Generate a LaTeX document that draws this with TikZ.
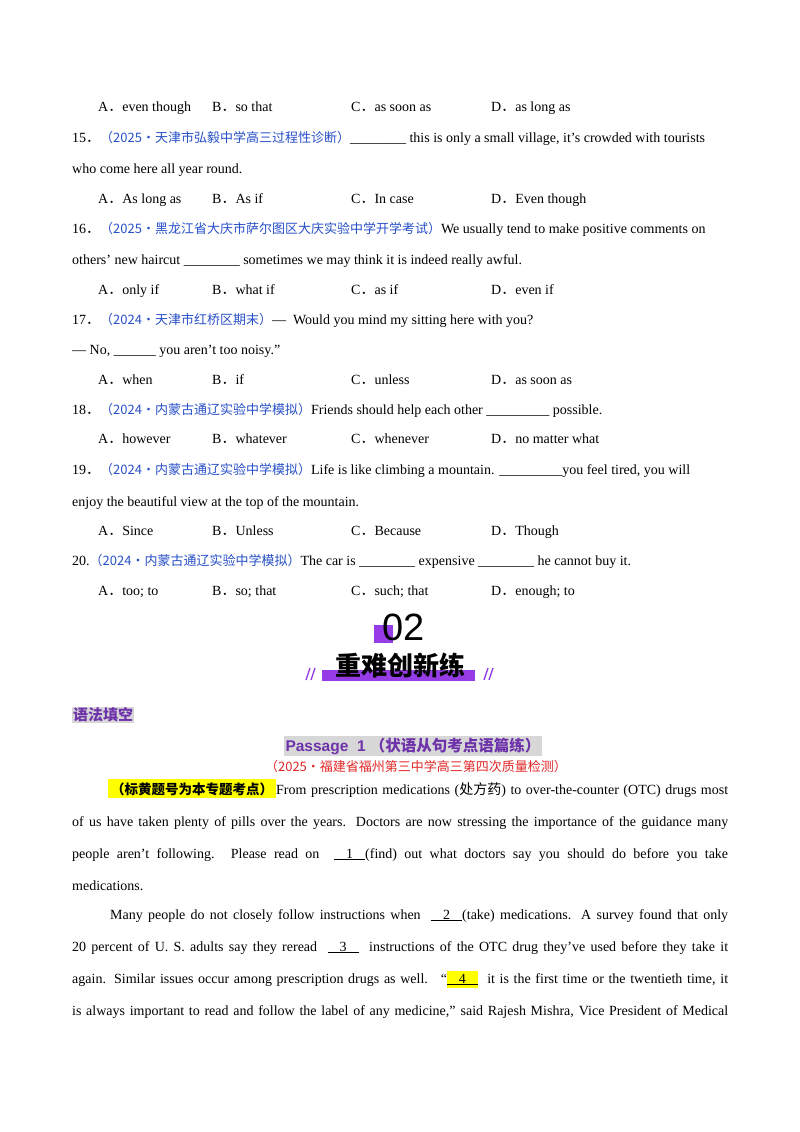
\documentclass[tikz,border=0pt]{standalone}
\usepackage{fontspec}
\setmainfont{Liberation Serif}
\newfontfamily\cjk{Noto Sans CJK SC}
\newfontfamily\arl{Liberation Sans}
\definecolor{src}{RGB}{40,80,200}
\definecolor{redsrc}{RGB}{225,40,40}
\definecolor{purp}{RGB}{110,50,170}
\definecolor{vio}{RGB}{150,60,230}
\definecolor{gry}{RGB}{215,215,215}
\definecolor{yel}{RGB}{255,255,0}
\newcommand{\srcx}[1]{{\color{src}\cjk\fontsize{13pt}{13pt}\selectfont #1}}
\newcommand{\blank}[1]{\underline{\hspace{12pt}#1\hspace{12pt}}}
\newcommand{\pt}{{\cjk ．}}
\begin{document}
\begin{tikzpicture}[x=1pt,y=-1pt,
  t/.style={anchor=base west,inner sep=0pt,font=\fontsize{14pt}{14pt}\selectfont},
  jl/.style={anchor=base west,inner sep=0pt,font=\fontsize{14pt}{14pt}\selectfont}]
\useasboundingbox[fill=white] (0,0) rectangle (800,1132);
\def\opt#1#2#3#4#5{\node[t] (o#1a) at (98,#1) {A\pt #2}; \node[t] (o#1b) at (212,#1) {B\pt #3}; \node[t] (o#1c) at (351,#1) {C\pt #4}; \node[t] (o#1d) at (491,#1) {D\pt #5};}
\opt{111}{even though}{so that}{as soon as}{as long as}
\node[t] (q15) at (72,142) {15\pt\srcx{（2025·天津市弘毅中学高三过程性诊断）}\_\_\_\_\_\_\_\_\ this is only a small village, it’s crowded with tourists};
\node[t] (q15b) at (72,173) {who come here all year round.};
\opt{203}{As long as}{As if}{In case}{Even though}
\node[t] (q16) at (72,233) {16\pt\srcx{（2025·黑龙江省大庆市萨尔图区大庆实验中学开学考试）}We usually tend to make positive comments on};
\node[t] (q16b) at (72,264) {others’ new haircut \_\_\_\_\_\_\_\_\ sometimes we may think it is indeed really awful.};
\opt{294}{only if}{what if}{as if}{even if}
\node[t] (q17) at (72,324) {17\pt\srcx{（2024·天津市红桥区期末）}— \ Would you mind my sitting here with you?};
\node[t] (q17b) at (72,354) {— No, \_\_\_\_\_\_\ you aren’t too noisy.”};
\opt{384}{when}{if}{unless}{as soon as}
\node[t] (q18) at (72,414) {18\pt\srcx{（2024·内蒙古通辽实验中学模拟）}Friends should help each other \_\_\_\_\_\_\_\_\_\ possible.};
\opt{443}{however}{whatever}{whenever}{no matter what}
\node[t] (q19) at (72,474) {19\pt\srcx{（2024·内蒙古通辽实验中学模拟）}Life is like climbing a mountain. \_\_\_\_\_\_\_\_\_you feel tired, you will};
\node[t] (q19b) at (72,506) {enjoy the beautiful view at the top of the mountain.};
\opt{535}{Since}{Unless}{Because}{Though}
\node[t] (q20) at (72,565) {20.\srcx{（2024·内蒙古通辽实验中学模拟）}The car is \_\_\_\_\_\_\_\_\ expensive \_\_\_\_\_\_\_\_\ he cannot buy it.};
\opt{595}{too; to}{so; that}{such; that}{enough; to}
\fill[vio] (374,625) rectangle (393,643);
\node[inner sep=0pt,font=\arl\fontsize{38pt}{38pt}\selectfont] (n02) at (404,627) {02};
\fill[vio] (322,670) rectangle (475,681);
\node[inner sep=0pt,font=\cjk\bfseries\fontsize{26pt}{26pt}\selectfont] (ttl) at (400,665) {重难创新练};
\draw[vio,line width=1.3pt] (306,680)--(310,668) (311,680)--(315,668) (484,680)--(488,668) (489,680)--(493,668);
\node[fill=gry,inner sep=1pt,text=purp,font=\cjk\bfseries\fontsize{15pt}{15pt}\selectfont,anchor=west] (sec) at (72,715) {语法填空};
\node[fill=gry,inner sep=1.5pt,text=purp,font=\arl\bfseries\fontsize{15.5pt}{16pt}\selectfont] (pass) at (413,746) {Passage\ \ 1 {\cjk（状语从句考点语篇练）}};
\node[inner sep=0pt,text=redsrc,font=\cjk\fontsize{13pt}{13pt}\selectfont] (src1) at (416,767) {（2025·福建省福州第三中学高三第四次质量检测）};
\node[jl] (p1) at (108,794) {\makebox[620pt][s]{\colorbox{yel}{\cjk\bfseries\fontsize{13.5pt}{14pt}\selectfont（标黄题号为本专题考点）}From prescription medications ({\cjk 处方药}) to over-the-counter (OTC) drugs most}};
\node[jl] (p2) at (72,826) {\makebox[656pt][s]{of us have taken plenty of pills over the years. Doctors are now stressing the importance of the guidance many}};
\node[jl] (p3) at (72,858) {\makebox[656pt][s]{people aren’t following. Please read on \ \blank{1}(find) out what doctors say you should do before you take}};
\node[jl] (p4) at (72,890) {medications.};
\node[jl] (p5) at (110,919) {\makebox[618pt][s]{Many people do not closely follow instructions when \ \blank{2}(take) medications. A survey found that only}};
\node[jl] (p6) at (72,951) {\makebox[656pt][s]{20 percent of U. S. adults say they reread \ \blank{3} \ instructions of the OTC drug they’ve used before they take it}};
\node[jl] (p7) at (72,983) {\makebox[656pt][s]{again. Similar issues occur among prescription drugs as well. \ “\colorbox{yel}{\hspace{-3pt}\blank{4}\hspace{-3pt}} \ it is the first time or the twentieth time, it}};
\node[jl] (p8) at (72,1015) {\makebox[656pt][s]{is always important to read and follow the label of any medicine,” said Rajesh Mishra, Vice President of Medical}};
\end{tikzpicture}
\end{document}
